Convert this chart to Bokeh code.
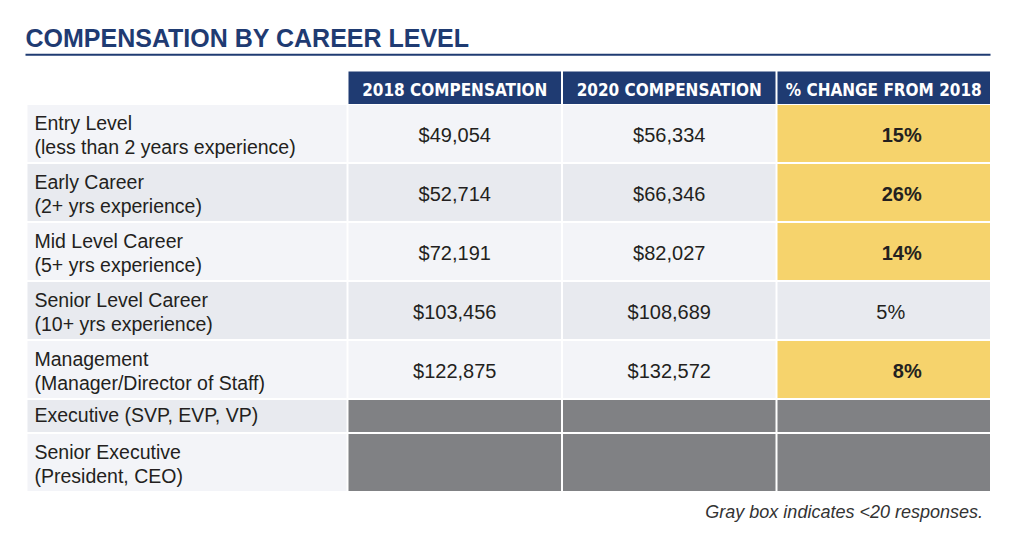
from bokeh.plotting import figure
from bokeh.models import Range1d
from bokeh.core.properties import value
from bokeh.embed import file_html
from bokeh.resources import INLINE

# ---------------- data ----------------
title = "COMPENSATION BY CAREER LEVEL"
headers = ["2018 COMPENSATION", "2020 COMPENSATION", "% CHANGE FROM 2018"]
level_line1 = ["Entry Level", "Early Career", "Mid Level Career", "Senior Level Career",
               "Management", "Executive (SVP, EVP, VP)", "Senior Executive"]
level_line2 = ["(less than 2 years experience)", "(2+ yrs experience)", "(5+ yrs experience)",
               "(10+ yrs experience)", "(Manager/Director of Staff)", "", "(President, CEO)"]
comp_2018 = [49054, 52714, 72191, 103456, 122875, None, None]
comp_2020 = [56334, 66346, 82027, 108689, 132572, None, None]
pct_change = [15, 26, 14, 5, 8, None, None]
highlight = [True, True, True, False, True, False, False]
footnote = "Gray box indicates <20 responses."

# ---------------- style / layout ----------------
NAVY = "#1f3b72"
TEXT = "#231f20"
LIGHT = "#f3f4f8"
DARK = "#e8eaef"
YELLOW = "#f6d36c"
GRAY = "#808184"
BODY_FONT = value("Liberation Sans")
HEAD_FONT = value("DejaVu Sans Condensed, sans-serif")

W, H = 1008, 528
p = figure(width=W, height=H, output_backend="svg", toolbar_location=None,
           x_range=Range1d(0, W), y_range=Range1d(H, 0),
           min_border=0, outline_line_color=None, background_fill_color="white",
           border_fill_color="white")
p.axis.visible = False
p.grid.visible = False


def bl(y, fs):
    # correct for the baseline offset observed in the svg renderer
    return y - 0.4 * fs


label_left, label_right = 27, 346
col_w, gap = 212.5, 2
col_left = [label_right + gap + i * (col_w + gap) for i in range(3)]
col_right = [c + col_w for c in col_left]
col_center = [(a + b) / 2 for a, b in zip(col_left, col_right)]

head_top, head_bot = 71, 103.5
row_h = [57 if l2 else 32 for l2 in level_line2]
row_top = []
y = 104.5
for h in row_h:
    row_top.append(y)
    y += h + gap
row_bot = [t + h for t, h in zip(row_top, row_h)]
row_ctr = [(t + b) / 2 for t, b in zip(row_top, row_bot)]

# title + rule
p.text(x=[25], y=[bl(46.7, 23)], text=[title], text_font=value("Liberation Sans"), text_font_style="bold",
       text_font_size="25px", text_color=NAVY, text_baseline="alphabetic", text_align="left")
p.quad(left=[25], right=[990], top=[53.3], bottom=[55.3], fill_color=NAVY, line_color=None)

# header
p.quad(left=col_left, right=col_right, top=[head_top] * 3, bottom=[head_bot] * 3,
       fill_color=NAVY, line_color=None)
p.text(x=col_center, y=[bl(96.0, 17)] * 3, text=headers, text_font=HEAD_FONT, text_font_style="bold",
       text_font_size="17px", text_color="white", text_align="center", text_baseline="alphabetic")

# rows
for i in range(len(level_line1)):
    bg = LIGHT if i % 2 == 0 else DARK
    t, b, c = row_top[i], row_bot[i], row_ctr[i]
    p.quad(left=[label_left], right=[label_right], top=[t], bottom=[b], fill_color=bg, line_color=None)
    vals = [comp_2018[i], comp_2020[i], pct_change[i]]
    for j in range(3):
        if vals[j] is None:
            fill = GRAY
        elif j == 2 and highlight[i]:
            fill = YELLOW
        else:
            fill = bg
        p.quad(left=[col_left[j]], right=[col_right[j]], top=[t], bottom=[b], fill_color=fill, line_color=None)
    # labels
    if level_line2[i]:
        p.text(x=[34], y=[bl(c - 3, 19.5)], text=[level_line1[i]], text_font=BODY_FONT, text_font_size="19.5px",
               text_color=TEXT, text_baseline="alphabetic", text_align="left")
        p.text(x=[34], y=[bl(c + 21, 19.5)], text=[level_line2[i]], text_font=BODY_FONT, text_font_size="19.5px",
               text_color=TEXT, text_baseline="alphabetic", text_align="left")
    else:
        p.text(x=[34], y=[bl(c + 6.5, 19.5)], text=[level_line1[i]], text_font=BODY_FONT, text_font_size="19.5px",
               text_color=TEXT, text_baseline="alphabetic", text_align="left")
    # values
    for j in range(2):
        if vals[j] is not None:
            p.text(x=[col_center[j]], y=[bl(c + 9.5, 20)], text=["${:,}".format(vals[j])], text_font=BODY_FONT,
                   text_font_size="20px", text_color=TEXT, text_baseline="alphabetic", text_align="center")
    if vals[2] is not None:
        if highlight[i]:
            p.text(x=[col_center[2] + 38], y=[bl(c + 9.5, 20)], text=["{}%".format(vals[2])], text_font=BODY_FONT,
                   text_font_style="bold", text_font_size="20px", text_color=TEXT,
                   text_baseline="alphabetic", text_align="right")
        else:
            p.text(x=[col_center[2] + 7], y=[bl(c + 9.5, 20)], text=["{}%".format(vals[2])], text_font=BODY_FONT,
                   text_font_size="20px", text_color=TEXT, text_baseline="alphabetic", text_align="center")

# footnote
p.text(x=[982.5], y=[bl(518.5, 18)], text=[footnote], text_font=BODY_FONT, text_font_style="italic",
       text_font_size="18px", text_color="#333333", text_baseline="alphabetic", text_align="right")

open("out.html", "w").write(file_html(p, INLINE))
